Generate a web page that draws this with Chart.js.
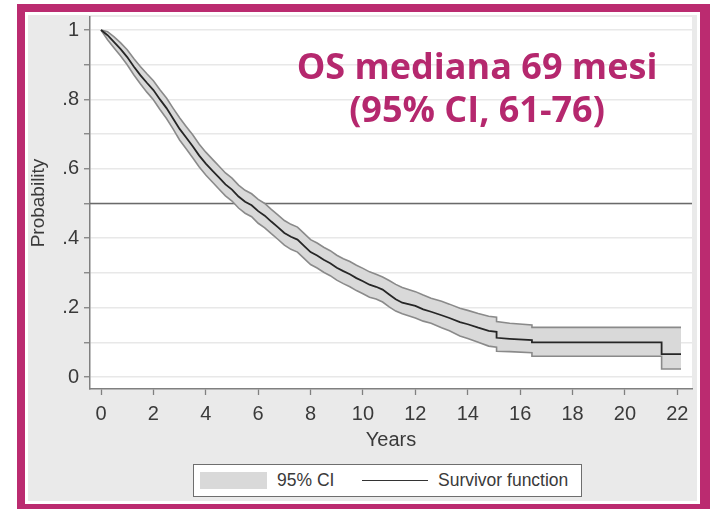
<!DOCTYPE html>
<html>
<head>
<meta charset="utf-8">
<script src="https://cdn.jsdelivr.net/npm/chart.js@4"></script>
<style>
    html, body { margin: 0; padding: 0; background: #fff; }
    #wrap { position: relative; width: 713px; height: 509px; overflow: hidden; }
    #km { position: absolute; left: 0; top: 0; }
    .note {
        position: absolute; left: 277px; width: 400px; text-align: center;
        font-family: "Open Sans", sans-serif; font-weight: bold; font-size: 36px;
        color: #b5286e; white-space: nowrap; line-height: 1;
    }
    #legend {
        position: absolute; left: 193px; top: 464px; width: 387px; height: 31px;
        background: #fff; border: 1px solid #6e6e6e;
        font-family: "Liberation Sans", Arial, sans-serif; font-size: 17.5px; color: #3a3a3a;
    }
    #legend .sw { position: absolute; left: 6px; top: 7px; width: 67px; height: 17px; background: #d9d9d9; }
    #legend .ln { position: absolute; left: 168px; top: 15px; width: 66px; height: 0; border-top: 1.5px solid #333; }
    #legend span { position: absolute; top: 5px; }
</style>
</head>
<body>
<div id="wrap">
    <canvas id="km" width="713" height="509"></canvas>
    <div class="note" style="top:48px">OS mediana 69 mesi</div>
    <div class="note" style="top:91px">(95% CI, 61-76)</div>
    <div id="legend">
        <div class="sw"></div><span style="left:83px">95% CI</span>
        <div class="ln"></div><span style="left:244px">Survivor function</span>
    </div>
</div>
<script>
// Kaplan-Meier overall survival
// (repeated years mark the visible vertical drops of the curve)

const years = [0, 0.25, 0.5, 0.75, 1, 1.25, 1.5, 1.75, 2, 2.25, 2.5, 2.75, 3, 3.25, 3.5, 3.75,
    4, 4.25, 4.5, 4.75, 5, 5.25, 5.5, 5.75, 6, 6.25, 6.5, 6.75, 7, 7.25, 7.5, 7.75,
    8, 8.25, 8.5, 8.75, 9, 9.25, 9.5, 9.75, 10, 10.25, 10.5, 10.75, 11, 11.25, 11.5,
    12, 12.3, 12.6, 13, 13.3, 13.7, 14, 14.4, 14.8, 15.1, 15.1, 15.6, 16.45, 16.45,
    21.4, 21.4, 22.14];

const survival = [1, .985, .965, .945, .922, .895, .870, .848, .827, .800, .775, .745, .715, .690, .665, .638,
    .615, .595, .575, .555, .540, .520, .505, .495, .478, .465, .448, .432, .415, .404, .396, .378,
    .360, .350, .338, .328, .315, .305, .296, .285, .276, .266, .260, .252, .238, .224, .214,
    .205, .195, .188, .178, .170, .158, .152, .142, .133, .130, .113, .110, .106, .100,
    .100, .066, .066];

const ciUpper = [1, .995, .980, .963, .943, .918, .895, .874, .854, .828, .804, .775, .747, .722, .698, .671,
    .648, .628, .608, .588, .573, .553, .538, .528, .512, .500, .483, .467, .451, .440, .432, .414,
    .396, .386, .374, .364, .351, .341, .333, .322, .313, .303, .296, .288, .278, .267, .258,
    .246, .236, .227, .218, .210, .198, .192, .183, .175, .172, .160, .155, .150, .143,
    .143, .143, .143];

const ciLower = [1, .972, .948, .925, .900, .871, .845, .821, .799, .771, .745, .715, .683, .658, .632, .605,
    .582, .562, .542, .522, .507, .487, .472, .462, .443, .430, .413, .397, .380, .368, .360, .342,
    .324, .314, .302, .292, .279, .269, .260, .249, .240, .230, .225, .216, .202, .190, .182,
    .170, .161, .155, .142, .133, .118, .111, .100, .089, .086, .074, .073, .070, .060,
    .060, .023, .023];

const refLevel = 0.5;

const xTickValues = [0, 2, 4, 6, 8, 10, 12, 14, 16, 18, 20, 22];
const yTickValues = [0, .1, .2, .3, .4, .5, .6, .7, .8, .9, 1];
const yTickLabels = ['0', '', '.2', '', '.4', '', '.6', '', '.8', '', '1'];

/* -------------------- HELPERS -------------------- */

function toPoints(values) {
    return years.map((t, i) => ({ x: t, y: values[i] }));
}

const framePlugin = {
    id: 'frame',
    beforeDraw(chart) {
        const { ctx, chartArea: a } = chart;
        ctx.save();
        ctx.fillStyle = '#ffffff';
        ctx.fillRect(0, 0, chart.width, chart.height);
        ctx.fillStyle = '#bb2b70';
        ctx.fillRect(17, 4, 693, 510);
        ctx.fillStyle = '#ffffff';
        ctx.fillRect(25, 12, 675, 492);
        ctx.fillStyle = '#eaeaea';
        ctx.fillRect(28, 15, 669, 486);
        ctx.fillStyle = '#ffffff';
        ctx.fillRect(a.left, a.top, a.right - a.left, a.bottom - a.top);
        ctx.restore();
    },
    beforeDatasetsDraw(chart) {
        const { ctx, chartArea: a } = chart;
        const y = chart.scales.y.getPixelForValue(refLevel);
        ctx.save();
        ctx.strokeStyle = '#6a6a6a';
        ctx.lineWidth = 1.3;
        ctx.beginPath();
        ctx.moveTo(a.left, y);
        ctx.lineTo(a.right, y);
        ctx.stroke();
        ctx.restore();
    }
};

/* -------------------- CHART -------------------- */

new Chart(document.getElementById('km'), {
    type: 'line',
    data: {
        datasets: [
            {
                label: 'Survivor function',
                data: toPoints(survival),
                borderColor: '#262626',
                borderWidth: 1.8,
                pointRadius: 0,
                tension: 0,
                fill: false
            },
            {
                label: '95% CI upper',
                data: toPoints(ciUpper),
                borderColor: '#8a8a8a',
                borderWidth: 1.6,
                pointRadius: 0,
                tension: 0,
                fill: false
            },
            {
                label: '95% CI lower',
                data: toPoints(ciLower),
                borderColor: '#8a8a8a',
                borderWidth: 1.6,
                backgroundColor: '#d9d9d9',
                pointRadius: 0,
                tension: 0,
                fill: '-1'
            }
        ]
    },
    options: {
        responsive: false,
        animation: false,
        layout: { padding: { left: 0, top: 17, right: 21, bottom: 0 } },
        plugins: {
            legend: { display: false },
            tooltip: { enabled: false }
        },
        scales: {
            x: {
                type: 'linear',
                min: -0.42,
                max: 22.56,
                afterBuildTicks: scale => { scale.ticks = xTickValues.map(v => ({ value: v })); },
                afterFit: scale => { scale.height = 120; },
                ticks: {
                    color: '#3a3a3a',
                    padding: 7,
                    maxRotation: 0,
                    font: { family: 'Liberation Sans', size: 20 }
                },
                grid: { drawOnChartArea: false, tickLength: 6, tickColor: '#808080', tickWidth: 1.3 },
                border: { color: '#808080', width: 1.5 },
                title: {
                    display: true,
                    text: 'Years',
                    color: '#3a3a3a',
                    font: { family: 'Liberation Sans', size: 20 },
                    padding: { top: 0, bottom: 57 }
                }
            },
            y: {
                type: 'linear',
                min: -0.0346,
                max: 1.0375,
                afterBuildTicks: scale => { scale.ticks = yTickValues.map(v => ({ value: v })); },
                afterFit: scale => { scale.width = 90; },
                ticks: {
                    color: '#3a3a3a',
                    padding: 5,
                    font: { family: 'Liberation Sans', size: 20 },
                    callback: (value, i) => yTickLabels[i]
                },
                grid: { color: '#e8e8e8', lineWidth: 1.5, tickLength: 6, tickColor: '#808080', tickWidth: 1.3 },
                border: { color: '#808080', width: 1.5 },
                title: {
                    display: true,
                    text: 'Probability',
                    color: '#3a3a3a',
                    font: { family: 'Liberation Sans', size: 19 },
                    padding: { top: 27, bottom: 0 }
                }
            }
        }
    },
    plugins: [framePlugin]
});
</script>
</body>
</html>
